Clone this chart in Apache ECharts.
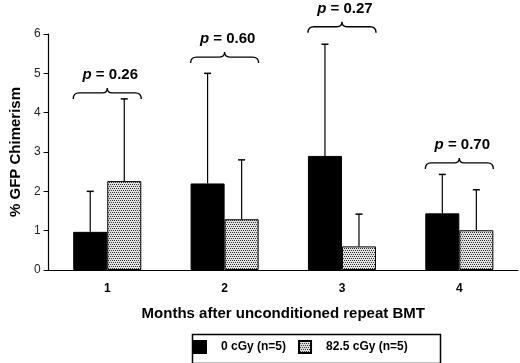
<!DOCTYPE html>
<html>
<head>
<meta charset="utf-8">
<script src="https://cdn.jsdelivr.net/npm/echarts@6/dist/echarts.min.js"></script>
<style>
html, body { margin: 0; padding: 0; background: #fff; }
#chart { width: 520px; height: 363px; }
</style>
</head>
<body>
<div id="chart"></div>
<script>
const months = ['1', '2', '3', '4'];
const seriesNames = ['0 cGy (n=5)', '82.5 cGy (n=5)'];
const dose0 = [0.97, 2.2, 2.9, 1.44];
const dose0Sd = [1.03, 2.8, 2.84, 0.99];
const dose825 = [2.26, 1.29, 0.6, 1.01];
const dose825Sd = [2.09, 1.51, 0.82, 1.03];
const braceLevel = [4.63, 5.54, 6.31, 2.85];
const pValues = ['0.26', '0.60', '0.27', '0.70'];

const FONT = '"Liberation Sans", Arial, Helvetica, sans-serif';

// dotted fill used for the 82.5 cGy bars
function dotPattern() {
    const c = document.createElement('canvas');
    c.width = 4;
    c.height = 4;
    const ctx = c.getContext('2d');
    ctx.fillStyle = '#e2e2e2';
    ctx.fillRect(0, 0, 4, 4);
    ctx.fillStyle = '#333';
    ctx.fillRect(0, 0, 1, 1);
    ctx.fillRect(2, 0, 1, 1);
    ctx.fillRect(1, 2, 1, 1);
    ctx.fillRect(3, 2, 1, 1);
    return c;
}

// upper error bar (line + cap), side -1 = left bar, +1 = right bar
function errorSeries(values, sds, side) {
    return {
        type: 'custom',
        z: 3,
        silent: true,
        renderItem(params, api) {
            const i = api.value(0);
            const cw = api.size([1, 0])[0];
            const x = api.coord([i, 0])[0] + side * cw * 0.145;
            const yBase = api.coord([i, api.value(1)])[1];
            const yTop = api.coord([i, api.value(2)])[1];
            return {
                type: 'group',
                children: [
                    { type: 'line', shape: { x1: x, y1: yBase, x2: x, y2: yTop }, style: { stroke: '#000', lineWidth: 1.2 } },
                    { type: 'line', shape: { x1: x - 3.5, y1: yTop, x2: x + 3.5, y2: yTop }, style: { stroke: '#000', lineWidth: 1.5 } }
                ]
            };
        },
        data: values.map((v, i) => [i, v, v + sds[i]])
    };
}

const myChart = echarts.init(document.getElementById('chart'));

const option = {
    animation: false,
    backgroundColor: '#fff',
    grid: { left: 46, right: 2, top: 34, bottom: 93 },
    // legend frame
    graphic: [{
        type: 'rect',
        left: 190,
        top: 332,
        shape: { width: 248, height: 29 },
        style: { fill: null, stroke: '#000', lineWidth: 1.5 },
        silent: true
    }],
    legend: {
        data: seriesNames,
        left: 190,
        top: 332,
        icon: 'rect',
        itemWidth: 12,
        itemHeight: 12,
        itemGap: 12,
        padding: [8, 4, 8, 3],
        textStyle: { fontFamily: FONT, fontWeight: 'bold', fontSize: 12, color: '#000', padding: [0, 0, 0, 10] }
    },
    xAxis: {
        type: 'category',
        data: months,
        name: 'Months after unconditioned repeat BMT',
        nameLocation: 'middle',
        nameGap: 36,
        nameTextStyle: { fontFamily: FONT, fontWeight: 'bold', fontSize: 15, color: '#000' },
        axisLine: { lineStyle: { color: '#000', width: 1.2 } },
        axisTick: { length: 4, lineStyle: { color: '#000' } },
        axisLabel: { fontFamily: FONT, fontWeight: 'bold', fontSize: 12, color: '#000', margin: 13 }
    },
    yAxis: {
        type: 'value',
        min: 0,
        max: 6,
        interval: 1,
        name: '% GFP Chimerism',
        nameLocation: 'middle',
        nameGap: 23,
        nameTextStyle: { fontFamily: FONT, fontWeight: 'bold', fontSize: 15, color: '#000' },
        axisLine: { show: true, lineStyle: { color: '#000', width: 1.2 } },
        axisTick: { show: true, length: 5, lineStyle: { color: '#000' } },
        axisLabel: { fontFamily: FONT, fontSize: 12, color: '#222', margin: 8 },
        splitLine: { show: false }
    },
    series: [
        {
            name: seriesNames[0],
            type: 'bar',
            barWidth: '29%',
            barGap: '0%',
            itemStyle: { color: '#000', borderColor: '#000', borderWidth: 1 },
            data: dose0
        },
        {
            name: seriesNames[1],
            type: 'bar',
            barWidth: '29%',
            barGap: '0%',
            itemStyle: { color: { image: dotPattern(), repeat: 'repeat' }, borderColor: '#000', borderWidth: 1 },
            data: dose825
        },
        errorSeries(dose0, dose0Sd, -1),
        errorSeries(dose825, dose825Sd, 1),
        {
            type: 'custom',
            z: 4,
            silent: true,
            clip: false,
            renderItem(params, api) {
                const i = api.value(0);
                const cw = api.size([1, 0])[0];
                const xc = api.coord([i, 0])[0];
                const y = api.coord([i, api.value(1)])[1];
                const hw = cw * 0.29;
                const x0 = xc - hw, x1 = xc + hw;
                const d = 'M' + x0 + ',' + (y + 11) +
                    ' Q' + x0 + ',' + (y + 5) + ' ' + (x0 + 6) + ',' + (y + 5) +
                    ' L' + (xc - 5) + ',' + (y + 5) +
                    ' Q' + xc + ',' + (y + 5) + ' ' + xc + ',' + y +
                    ' Q' + xc + ',' + (y + 5) + ' ' + (xc + 5) + ',' + (y + 5) +
                    ' L' + (x1 - 6) + ',' + (y + 5) +
                    ' Q' + x1 + ',' + (y + 5) + ' ' + x1 + ',' + (y + 11);
                return {
                    type: 'group',
                    children: [
                        { type: 'path', shape: { pathData: d }, style: { fill: null, stroke: '#000', lineWidth: 1.4 } },
                        {
                            type: 'text',
                            x: xc + 3,
                            y: y - 13,
                            style: {
                                text: '{i|p} = ' + pValues[i],
                                rich: { i: { fontStyle: 'italic', fontWeight: 'bold', fontSize: 15, fontFamily: FONT } },
                                font: 'bold 15px ' + FONT,
                                fill: '#000',
                                align: 'center',
                                verticalAlign: 'middle'
                            }
                        }
                    ]
                };
            },
            data: braceLevel.map((v, i) => [i, v])
        }
    ]
};

myChart.setOption(option);
</script>
</body>
</html>
